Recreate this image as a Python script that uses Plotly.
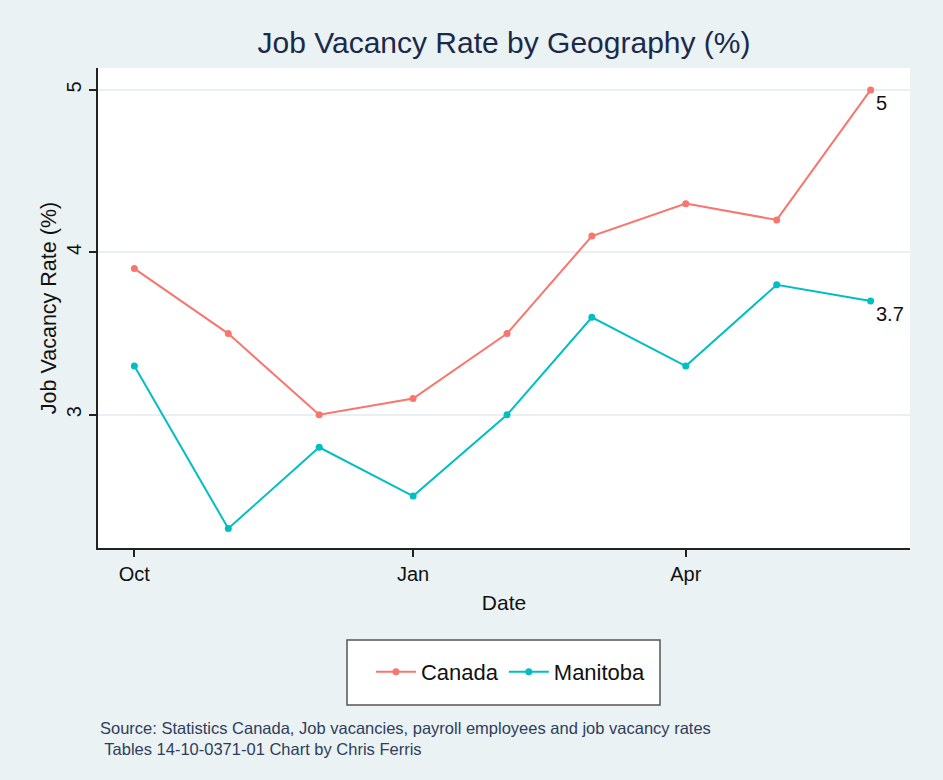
import plotly.graph_objects as go

dates = ["2021-10-01", "2021-11-01", "2021-12-01", "2022-01-01", "2022-02-01",
         "2022-03-01", "2022-04-01", "2022-05-01", "2022-06-01"]
canada = [3.9, 3.5, 3.0, 3.1, 3.5, 4.1, 4.3, 4.2, 5.0]
manitoba = [3.3, 2.3, 2.8, 2.5, 3.0, 3.6, 3.3, 3.8, 3.7]
xtick_vals = ["2021-10-01", "2022-01-01", "2022-04-01"]
xtick_text = ["Oct", "Jan", "Apr"]
ytick_vals = [3, 4, 5]

FONT = "Liberation Sans, Arial, sans-serif"
BG = "#EAF2F3"

def end_labels(vals):
    return [""] * (len(vals) - 1) + [f"{vals[-1]:g}"]

fig = go.Figure()
fig.add_trace(go.Scatter(
    x=dates, y=canada, name="Canada", mode="lines+markers+text",
    line=dict(color="#F8766D", width=2), marker=dict(size=7, color="#F8766D"),
    text=end_labels(canada), textposition="bottom right",
    textfont=dict(size=20, color="#111111", family=FONT)))
fig.add_trace(go.Scatter(
    x=dates, y=manitoba, name="Manitoba", mode="lines+markers+text",
    line=dict(color="#00BFC4", width=2), marker=dict(size=7, color="#00BFC4"),
    text=end_labels(manitoba), textposition="bottom right",
    textfont=dict(size=20, color="#111111", family=FONT)))

fig.update_layout(
    width=943, height=780,
    paper_bgcolor=BG, plot_bgcolor="white",
    margin=dict(l=98, r=33, t=68, b=232),
    font=dict(family=FONT, color="#111111", size=20),
    title=dict(text="Job Vacancy Rate by Geography (%)", x=0.5, xanchor="center",
               xref="paper", y=1 - 42 / 780, yanchor="middle",
               font=dict(size=30, color="#1b2a4a", family=FONT)),
    showlegend=True,
    legend=dict(orientation="h", x=0.5086, xanchor="center", y=-0.258, yanchor="middle",
                bgcolor="rgba(0,0,0,0)", borderwidth=0,
                font=dict(size=22, color="#111111", family=FONT), itemwidth=40),
    xaxis=dict(
        type="date", range=["2021-09-19", "2022-06-14"],
        tickvals=xtick_vals, ticktext=xtick_text,
        showgrid=False, zeroline=False,
        showline=True, linecolor="#222222", linewidth=2,
        ticks="outside", ticklen=7, tickwidth=1.5, tickcolor="#222222",
        tickfont=dict(size=20, color="#111111"),
        title=dict(text="Date", font=dict(size=21, color="#111111"), standoff=11)),
    yaxis=dict(
        range=[2.18, 5.135], tickvals=ytick_vals, ticktext=[str(v) for v in ytick_vals],
        tickangle=-90,
        showgrid=True, gridcolor="#E8F0F2", gridwidth=1.5, zeroline=False,
        showline=True, linecolor="#222222", linewidth=2,
        ticks="outside", ticklen=7, tickwidth=1.5, tickcolor="#222222",
        tickfont=dict(size=20, color="#111111"),
        title=dict(text="Job Vacancy Rate (%)", font=dict(size=21.5, color="#111111"), standoff=0)),
    shapes=[dict(type="rect", xref="paper", yref="paper",
                 x0=(347 - 98) / 812, x1=(660 - 98) / 812,
                 y0=-(705 - 548) / 480, y1=-(640 - 548) / 480,
                 line=dict(color="#555555", width=1.5), fillcolor="white", layer="below")],
    annotations=[dict(
        text="Source: Statistics Canada, Job vacancies, payroll employees and job vacancy rates<br> Tables 14-10-0371-01 Chart by Chris Ferris",
        xref="paper", yref="paper", x=0, y=-(717 - 548) / 480,
        xanchor="left", yanchor="top", align="left", showarrow=False,
        font=dict(size=16.5, color="#2f3d5c", family=FONT))],
)

fig.write_html("out.html", config={"displayModeBar": False},
               post_script="document.body.style.margin='0';document.body.style.background='#EAF2F3';")
